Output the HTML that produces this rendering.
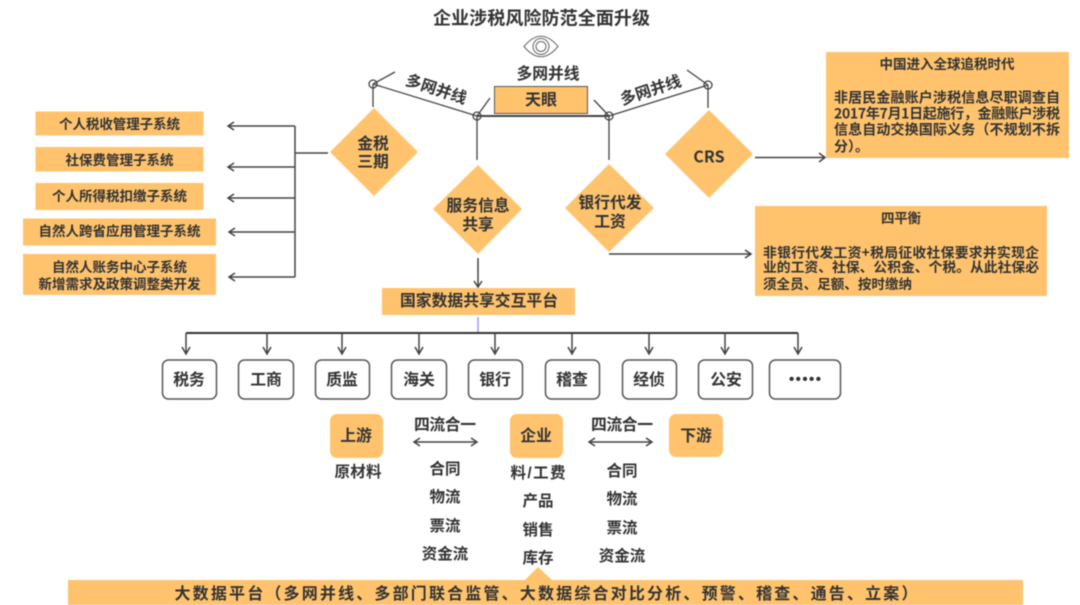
<!DOCTYPE html>
<html><head><meta charset="utf-8"><style>
html,body{margin:0;padding:0;background:#fff;width:1080px;height:605px;overflow:hidden}
svg{display:block;filter:blur(.5px)}
text{font-family:"Liberation Sans","Noto Sans CJK SC",sans-serif;font-weight:bold;fill:#333;text-anchor:middle;dominant-baseline:central}
text:not([transform]){transform:translateY(.7px)}
.c{font-family:"Noto Sans CJK SC",sans-serif}
.o{fill:#FFC36D}
.l{stroke:#444;stroke-width:1.3;fill:none}
.a{stroke:#444;stroke-width:1.5;fill:none}
.n{fill:#fff;stroke:#555;stroke-width:1.5}
</style></head><body>
<svg width="1080" height="605" viewBox="0 0 1080 605" xmlns="http://www.w3.org/2000/svg">
<text x="541.500" y="18" font-size="18" textLength="217">企业涉税风险防范全面升级</text>
<g fill="none" stroke="#666" stroke-width="1"><path d="M524 46.500Q541 26 558 46.500Q541 67 524 46.500Z"/><circle cx="541" cy="46.500" r="8"/><circle cx="541" cy="46.500" r="5"/></g>
<text x="548" y="74" font-size="15.800" textLength="63">多网并线</text>
<rect x="494.500" y="86.500" width="93" height="27" class="o" stroke="#555" stroke-width="1"/>
<text x="541" y="100" font-size="16" textLength="32">天眼</text>

<g class="l">
<path d="M373 84L477 116M609 116L708 85M373 84L395 72M477 116L490 98M609 116L594 100M708 85L687 70"/>
<path d="M373 84V107M708 85V108M477 116V160M609 116V160"/>
<path d="M477 116H609" stroke-width="2"/>
<circle cx="373" cy="84" r="4"/><circle cx="477" cy="116" r="4"/><circle cx="609" cy="116" r="4"/><circle cx="708" cy="85" r="4"/>
</g>
<text transform="translate(436 90) rotate(18)" font-size="15.800" textLength="63">多网并线</text>
<text transform="translate(651 91) rotate(-18)" font-size="15.800" textLength="63">多网并线</text>

<polygon class="o" points="374,108 418,152 374,196 330,152"/>
<polygon class="o" points="709,110 753,154 709,198 665,154"/>
<polygon class="o" points="478,165 522,209 478,254 433,209"/>
<polygon class="o" points="609,164 654,208 609,252 565,208"/>
<text x="373" y="144" font-size="15.800">金税</text><text x="373" y="162" font-size="15.800">三期</text>
<text class="c" x="709" y="155" font-size="16">CRS</text>
<text x="478" y="206" font-size="15.800">服务信息</text><text x="478" y="225" font-size="15.800">共享</text>
<text x="610" y="203" font-size="15.800">银行代发</text><text x="610" y="222" font-size="15.800">工资</text>

<g class="o">
<rect x="35.500" y="111.500" width="168" height="24"/>
<rect x="35.500" y="147" width="168" height="24.500"/>
<rect x="35.500" y="183" width="168" height="27"/>
<rect x="23" y="218.500" width="193" height="27"/>
<rect x="23" y="254" width="193" height="41"/>
</g>
<text x="119.500" y="124" font-size="13.500" textLength="121">个人税收管理子系统</text>
<text x="119.500" y="160" font-size="13.500" textLength="108">社保费管理子系统</text>
<text x="119.500" y="196" font-size="13.500" textLength="135">个人所得税扣缴子系统</text>
<text x="119.500" y="231" font-size="13.500" textLength="162">自然人跨省应用管理子系统</text>
<text x="119.500" y="267" font-size="13.500" textLength="135">自然人账务中心子系统</text>
<text x="119.500" y="284" font-size="13.500" textLength="162">新增需求及政策调整类开发</text>

<g class="a">
<path d="M328 153H295M295 126V277M295 126H228M295 167H228M295 198H228M295 232H229M295 277H229"/>
<path d="M234 122L228 126L234 130M234 163L228 167L234 171M234 194L228 198L234 202M235 228L229 232L235 236M235 273L229 277L235 281"/>
<path d="M755 157.500H824M819 153L825 157.500L819 162"/>
<path d="M609 254H750M745 250L751 254L745 258"/>
<path d="M478 258V286M474 281L478 287L482 281"/>
</g>

<rect x="826" y="52" width="243" height="106" class="o"/>
<text x="947" y="64" font-size="13.500" textLength="135">中国进入全球追税时代</text>
<text x="947" y="97" font-size="14" textLength="226">非居民金融账户涉税信息尽职调查自</text>
<text class="c" x="947" y="113" font-size="14" textLength="226">2017年7月1日起施行，金融账户涉税</text>
<text x="947" y="129" font-size="14" textLength="226">信息自动交换国际义务（不规划不拆</text>
<text x="834" y="146" font-size="14" style="text-anchor:start">分）。</text>

<rect x="755" y="206" width="292" height="90" class="o"/>
<text x="901" y="218" font-size="13.500" textLength="40">四平衡</text>
<text class="c" x="901" y="251" font-size="13.800" textLength="276">非银行代发工资+税局征收社保要求并实现企</text>
<text x="901" y="267" font-size="13.800" textLength="276">业的工资、社保、公积金、个税。从此社保必</text>
<text x="763" y="284" font-size="13.500" textLength="149" style="text-anchor:start">须全员、足额、按时缴纳</text>

<rect x="382" y="288" width="193" height="27" class="o"/>
<text x="479" y="301" font-size="15.800" textLength="158">国家数据共享交互平台</text>
<path d="M478 317V333" stroke="#b9b5ee" stroke-width="2" fill="none"/>
<path d="M186 333H798" stroke="#333" stroke-width="2" fill="none"/>
<g class="a">
<path d="M186 333V353M182 347L186 354L190 347M267 333V353M263 347L267 354L271 347M342 333V353M338 347L342 354L346 347M419 333V353M415 347L419 354L423 347M495 333V353M491 347L495 354L499 347M572 333V353M568 347L572 354L576 347M649 333V353M645 347L649 354L653 347M725 333V353M721 347L725 354L729 347M798 333V353M794 347L798 354L802 347"/>
</g>
<g class="n">
<rect x="162.500" y="360" width="54" height="39" rx="6"/>
<rect x="238.500" y="360" width="55" height="39" rx="6"/>
<rect x="315.500" y="360" width="54" height="39" rx="6"/>
<rect x="391.500" y="360" width="55" height="39" rx="6"/>
<rect x="468.500" y="360" width="54" height="39" rx="6"/>
<rect x="545.500" y="360" width="54" height="39" rx="6"/>
<rect x="622.500" y="360" width="54" height="39" rx="6"/>
<rect x="698.500" y="360" width="54" height="39" rx="6"/>
<rect x="769.500" y="360" width="71" height="39" rx="6"/>
</g>
<g font-size="15.800">
<text x="189" y="380">税务</text><text x="266" y="380">工商</text><text x="342" y="380">质监</text><text x="419" y="380">海关</text><text x="495" y="380">银行</text><text x="572" y="380">稽查</text><text x="649" y="380">经侦</text><text x="726" y="380">公安</text>
<text x="805" y="379" font-size="15" textLength="32">•••••</text>
</g>

<rect x="330" y="414" width="53" height="44" rx="7" class="o"/>
<rect x="510" y="414" width="53" height="44" rx="7" class="o"/>
<rect x="669" y="414" width="54" height="43" rx="7" class="o"/>
<g font-size="15.800">
<text x="356" y="436">上游</text><text x="536" y="436">企业</text><text x="696" y="436">下游</text>
<text x="445" y="425" textLength="62">四流合一</text><text x="622" y="425" textLength="62">四流合一</text>
<text x="358" y="472" font-size="15.500" textLength="47">原材料</text>
</g>
<g class="a"><path d="M415 442H476M420 438L414 442L420 446M471 438L477 442L471 446M590 442H651M595 438L589 442L595 446M646 438L652 442L646 446"/></g>
<g font-size="15.500">
<text x="445" y="469">合同</text><text x="445" y="497">物流</text><text x="445" y="526">票流</text><text x="445" y="554">资金流</text>
<text x="622" y="471">合同</text><text x="622" y="499">物流</text><text x="622" y="528">票流</text><text x="622" y="556">资金流</text>
<text x="538" y="473" textLength="55">料/工费</text><text x="538" y="501">产品</text><text x="538" y="530">销售</text><text x="538" y="558">库存</text>
</g>
<polygon class="o" points="538,567 525,580 552,580"/>
<rect x="68" y="580" width="955" height="25" class="o"/>
<text x="546" y="594" font-size="16" textLength="743">大数据平台（多网并线、多部门联合监管、大数据综合对比分析、预警、稽查、通告、立案）</text>
</svg>
</body></html>
